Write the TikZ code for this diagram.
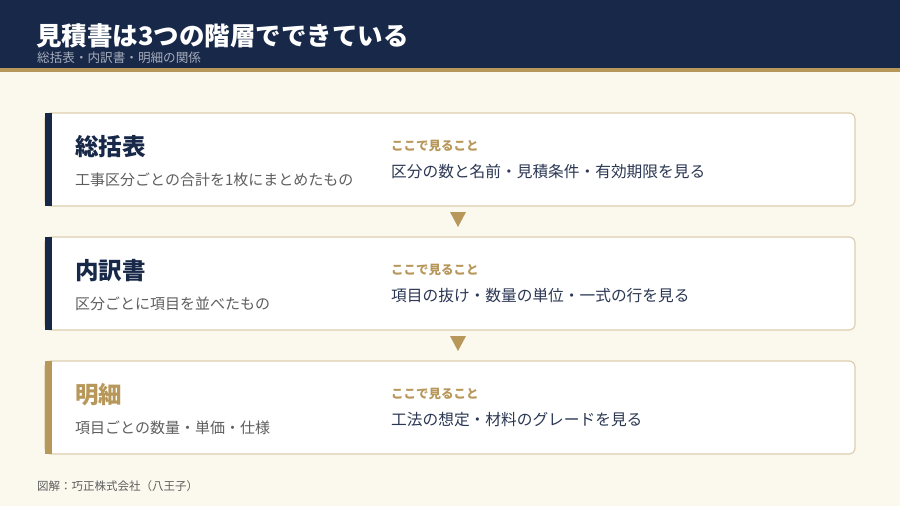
\documentclass[tikz,border=0pt]{standalone}
\usepackage{fontspec}
\setmainfont{Noto Sans CJK JP}
\usetikzlibrary{positioning}
\definecolor{navy}{HTML}{172849}
\definecolor{gold}{HTML}{B8975A}
\definecolor{cream}{HTML}{FBF8EE}
\definecolor{cardline}{HTML}{DDCFAF}
\definecolor{greytext}{HTML}{5E5E5E}
\definecolor{bodytext}{HTML}{2B3753}
\begin{document}
\begin{tikzpicture}[x=1pt,y=-1pt,
    txt/.style={anchor=west,inner sep=0pt},
    card/.style={draw=cardline,line width=1.2pt,fill=white,rounded corners=6pt},
    head/.style={txt,font=\fontsize{23.5}{28}\selectfont\bfseries},
    sub/.style={txt,text=greytext,font=\fontsize{15}{18}\selectfont},
    look/.style={txt,text=gold,font=\fontsize{12.5}{15}\selectfont\bfseries},
    point/.style={txt,text=bodytext,font=\fontsize{15.7}{19}\selectfont}]
              \useasboundingbox (0,0) rectangle (900,506);
              \fill[cream] (0,0) rectangle (900,506);
              \fill[navy] (0,0) rectangle (900,68);
              \fill[gold] (0,68) rectangle (900,72);
              \node[txt,text=white,font=\fontsize{25.5}{30}\selectfont\bfseries](title)at(36,36){見積書は3つの階層でできている};
              \node[txt,text=white!62!navy,font=\fontsize{12.6}{15}\selectfont](subtitle)at(37,58){総括表・内訳書・明細の関係};
              % 総括表
              \draw[card] (45,113) rectangle (855,206);
              \fill[navy] (45,113) rectangle (52,206);
              \node[head,text=navy](a)at(75,147){総括表};
              \node[sub](a1)at(75,180){工事区分ごとの合計を1枚にまとめたもの};
              \node[look](a2)at(391,146){ここで見ること};
              \node[point](a3)at(391,171.5){区分の数と名前・見積条件・有効期限を見る};
              \fill[gold] (450,212) -- (466,212) -- (458,227) -- cycle;
              % 内訳書
              \draw[card] (45,237) rectangle (855,330);
              \fill[navy] (45,237) rectangle (52,330);
              \node[head,text=navy](b)at(75,271){内訳書};
              \node[sub](b1)at(75,304){区分ごとに項目を並べたもの};
              \node[look](b2)at(391,270){ここで見ること};
              \node[point](b3)at(391,295.5){項目の抜け・数量の単位・一式の行を見る};
              \fill[gold] (450,336) -- (466,336) -- (458,351) -- cycle;
              % 明細
              \draw[card] (45,361) rectangle (855,454);
              \fill[gold] (45,361) rectangle (52,454);
              \node[head,text=gold](c)at(75,395){明細};
              \node[sub](c1)at(75,428){項目ごとの数量・単価・仕様};
              \node[look](c2)at(391,394){ここで見ること};
              \node[point](c3)at(391,419.5){工法の想定・材料のグレードを見る};
              \node[txt,text=greytext,font=\fontsize{11.5}{14}\selectfont](credit)at(37,486){図解：巧正株式会社（八王子）};
            \end{tikzpicture}
\end{document}
